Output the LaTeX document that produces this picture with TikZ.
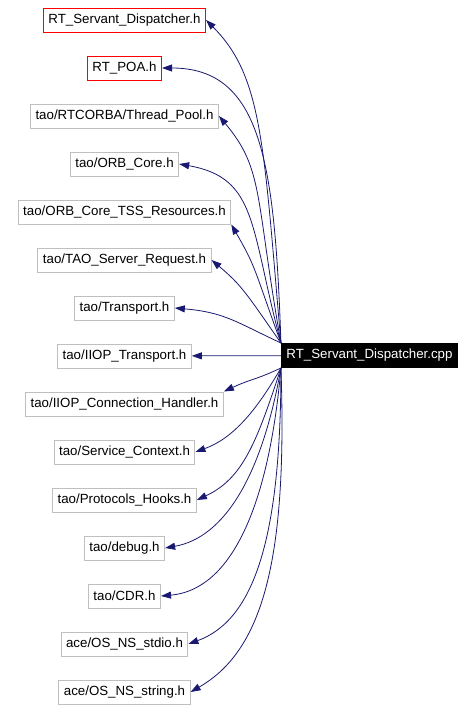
\documentclass[tikz,border=0pt]{standalone}
\usepackage{fontspec}
\setmainfont{Liberation Sans}
\usetikzlibrary{arrows.meta}
\definecolor{edgeblue}{RGB}{25,25,112}
\definecolor{boxgray}{RGB}{191,191,191}

\begin{document}
\begin{tikzpicture}[
  x=1pt, y=1pt,
  hnode/.style={draw=boxgray, line width=1pt, minimum height=24pt, inner xsep=5pt, inner ysep=0pt, font=\fontsize{13.3}{16}\selectfont},
  redh/.style={hnode, draw=red},
  edge/.style={draw=edgeblue, line width=0.8pt, -{Triangle[length=10pt,width=7pt]}}
]
  \useasboundingbox (0,0) rectangle (475,-710);
  \node[hnode, fill=black, draw=black, text=white] (main) at (369.5,-355.5) {RT\_Servant\_Dispatcher.cpp};

  \foreach \n/\s/\t [count=\i] in {
    spd/redh/RT\_Servant\_Dispatcher.h, poa/redh/RT\_POA.h,
    tpool/hnode/tao\slash RTCORBA\slash Thread\_Pool.h, orbcore/hnode/tao\slash ORB\_Core.h,
    tss/hnode/tao\slash ORB\_Core\_TSS\_Resources.h, sreq/hnode/tao\slash TAO\_Server\_Request.h,
    transp/hnode/tao\slash Transport.h, iiopt/hnode/tao\slash IIOP\_Transport.h,
    iiopch/hnode/tao\slash IIOP\_Connection\_Handler.h, sctx/hnode/tao\slash Service\_Context.h,
    phooks/hnode/tao\slash Protocols\_Hooks.h, debug/hnode/tao\slash debug.h,
    cdr/hnode/tao\slash CDR.h, stdio/hnode/ace\slash OS\_NS\_stdio.h,
    nsstring/hnode/ace\slash OS\_NS\_string.h} {
    \node[\s] (\n) at (124.5,{-20-48*(\i-1)}) {\t};
  }

  \foreach \n/\o/\p/\a/\q in {spd.east/95/200/-45/80, poa.east/92/180/0/100,
    tpool.east/100/150/-50/70, orbcore.east/105/120/-10/80,
    tss.south east/110/80/-60/50, sreq.east/125/60/-40/40, transp.east/155/50/-5/50} {
    \draw[edge] (main.north west) to[out=\o,in=\a,out distance=\p pt,in distance=\q pt] (\n);
  }
  \draw[edge] (main) -- (iiopt);
  \foreach \n/\o/\p/\a/\q in {iiopch.north east/-155/30/25/30, sctx.east/-120/50/20/40,
    phooks.east/-108/80/25/50, debug.east/-100/110/10/60, cdr.east/-95/140/5/70,
    stdio.east/-90/170/20/70, nsstring.east/-88/200/30/80} {
    \draw[edge] (main.south west) to[out=\o,in=\a,out distance=\p pt,in distance=\q pt] (\n);
  }
\end{tikzpicture}
\end{document}
